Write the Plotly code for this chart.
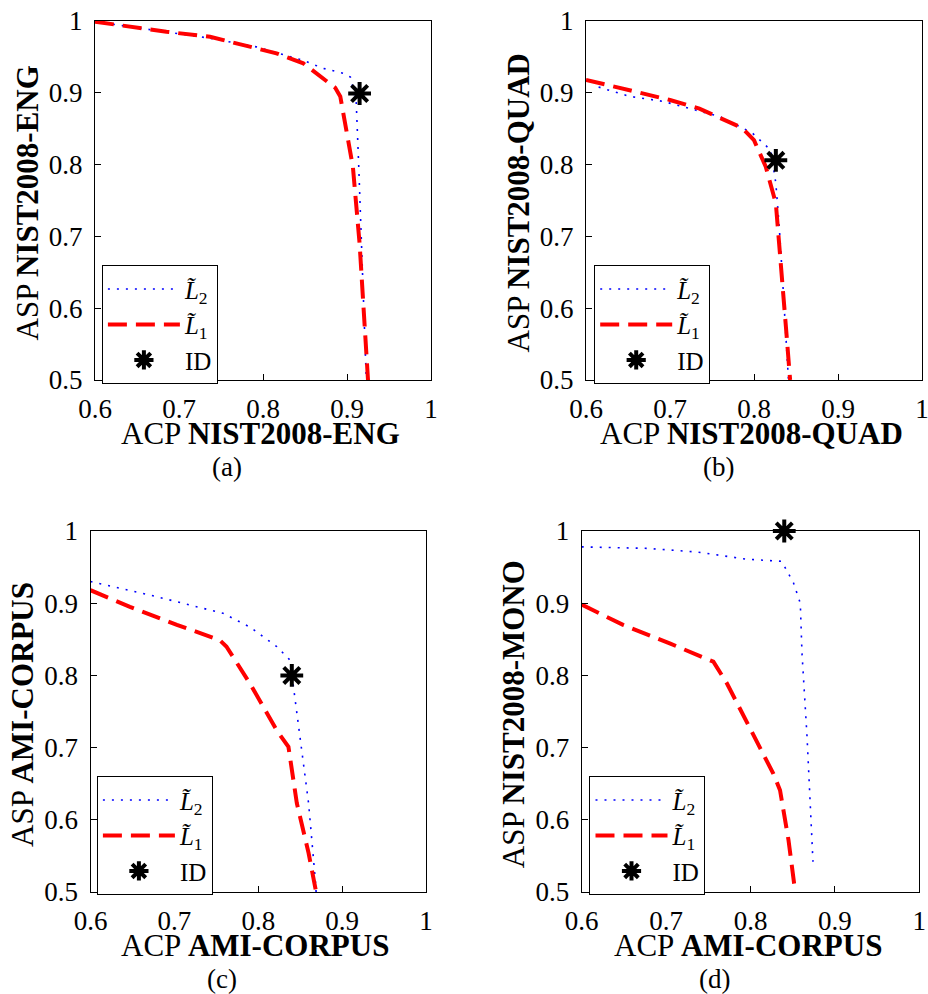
import plotly.graph_objects as go

# ---------------- data ----------------
# Panel (a): NIST2008-ENG
a_l2_x = [0.600, 0.685, 0.737, 0.792, 0.848, 0.872, 0.896, 0.904, 0.911, 0.914, 0.919, 0.923]
a_l2_y = [0.999, 0.985, 0.976, 0.964, 0.945, 0.934, 0.927, 0.922, 0.886, 0.797, 0.644, 0.500]
a_l1_x = [0.600, 0.685, 0.737, 0.816, 0.848, 0.886, 0.892, 0.907, 0.915, 0.925]
a_l1_y = [0.999, 0.985, 0.978, 0.955, 0.941, 0.907, 0.895, 0.797, 0.690, 0.500]
a_id = (0.915, 0.899)

# Panel (b): NIST2008-QUAD
b_l2_x = [0.615, 0.652, 0.692, 0.759, 0.798, 0.820, 0.826, 0.830, 0.835, 0.841]
b_l2_y = [0.908, 0.895, 0.888, 0.867, 0.844, 0.820, 0.774, 0.714, 0.621, 0.500]
b_l1_x = [0.600, 0.644, 0.700, 0.735, 0.786, 0.800, 0.814, 0.826, 0.832, 0.838, 0.843]
b_l1_y = [0.918, 0.906, 0.890, 0.878, 0.851, 0.834, 0.797, 0.746, 0.667, 0.574, 0.500]
b_id = (0.826, 0.806)

# Panel (c): AMI-CORPUS
c_l2_x = [0.600, 0.679, 0.758, 0.790, 0.822, 0.838, 0.842, 0.850, 0.860, 0.868, 0.869]
c_l2_y = [0.930, 0.909, 0.886, 0.867, 0.840, 0.821, 0.784, 0.715, 0.623, 0.517, 0.500]
c_l1_x = [0.600, 0.647, 0.703, 0.754, 0.762, 0.790, 0.822, 0.836, 0.846, 0.860, 0.869]
c_l1_y = [0.918, 0.895, 0.870, 0.849, 0.840, 0.789, 0.724, 0.701, 0.623, 0.554, 0.500]
c_id = (0.840, 0.800)

# Panel (d): AMI-CORPUS vs NIST2008-MONO
d_l2_x = [0.600, 0.677, 0.736, 0.795, 0.837, 0.851, 0.859, 0.861, 0.867, 0.872, 0.874]
d_l2_y = [0.978, 0.976, 0.971, 0.961, 0.958, 0.928, 0.900, 0.831, 0.715, 0.600, 0.542]
d_l1_x = [0.600, 0.649, 0.705, 0.756, 0.772, 0.803, 0.827, 0.835, 0.845, 0.853]
d_l1_y = [0.898, 0.870, 0.844, 0.819, 0.789, 0.720, 0.664, 0.641, 0.572, 0.500]
d_id = (0.840, 1.000)

x_ticks = [0.6, 0.7, 0.8, 0.9, 1.0]
x_tick_labels = ["0.6", "0.7", "0.8", "0.9", "1"]
y_ticks = [0.5, 0.6, 0.7, 0.8, 0.9, 1.0]
y_tick_labels = ["0.5", "0.6", "0.7", "0.8", "0.9", "1"]

x_titles = ["NIST2008-ENG", "NIST2008-QUAD", "AMI-CORPUS", "AMI-CORPUS"]
y_titles = ["NIST2008-ENG", "NIST2008-QUAD", "AMI-CORPUS", "NIST2008-MONO"]
captions = ["(a)", "(b)", "(c)", "(d)"]
series_names = ["<i>L̃</i><sub>2</sub>", "<i>L̃</i><sub>1</sub>", "ID"]

# ---------------- layout geometry (pixels) ----------------
W, H = 928, 994
panels = [  # left, right, top, bottom in px
    (95, 431, 21, 380),
    (586, 922, 21, 380),
    (90.5, 426, 531, 892),
    (581.7, 919.3, 531, 892),
]
legend_pos = [(101.7, 265), (594, 265), (96.7, 776), (589.3, 776)]

FONT = "Liberation Serif"
BLUE = "#0000ff"
RED = "#ff0000"

data = [
    (a_l2_x, a_l2_y, a_l1_x, a_l1_y, a_id),
    (b_l2_x, b_l2_y, b_l1_x, b_l1_y, b_id),
    (c_l2_x, c_l2_y, c_l1_x, c_l1_y, c_id),
    (d_l2_x, d_l2_y, d_l1_x, d_l1_y, d_id),
]

fig = go.Figure()
layout = dict(
    width=W, height=H,
    margin=dict(l=0, r=0, t=0, b=0, autoexpand=False),
    paper_bgcolor="white", plot_bgcolor="white",
    font=dict(family=FONT, size=27, color="black"),
    annotations=[],
)

for i, (l2x, l2y, l1x, l1y, idp) in enumerate(data):
    n = i + 1
    xs = "" if n == 1 else str(n)
    leg = "legend" if n == 1 else f"legend{n}"
    xa = f"x{xs}"
    ya = f"y{xs}"
    fig.add_trace(go.Scatter(x=l2x, y=l2y, mode="lines", name=series_names[0],
                             line=dict(color=BLUE, width=1.6, dash="2px,7px"),
                             xaxis=xa, yaxis=ya, legend=leg))
    fig.add_trace(go.Scatter(x=l1x, y=l1y, mode="lines", name=series_names[1],
                             line=dict(color=RED, width=4, dash="19px,9px"),
                             xaxis=xa, yaxis=ya, legend=leg))
    fig.add_trace(go.Scatter(x=[idp[0]], y=[idp[1]], mode="markers", name=series_names[2],
                             marker=dict(symbol="asterisk-open", size=19, color="black",
                                         line=dict(color="black", width=4)),
                             xaxis=xa, yaxis=ya, legend=leg, cliponaxis=False))

    L, R, T, B = panels[i]
    axcommon = dict(showline=True, mirror=True, linecolor="black", linewidth=1.2,
                    ticks="inside", ticklen=6, tickcolor="black", showgrid=False,
                    zeroline=False, automargin=False, ticklabeloverflow="allow",
                    tickfont=dict(family=FONT, size=27, color="black"))
    layout[f"xaxis{xs}"] = dict(domain=[L / W, R / W], range=[0.6, 1.0], anchor=ya,
                                tickvals=x_ticks, ticktext=x_tick_labels,
                                ticklabelstandoff=4, **axcommon)
    layout[f"yaxis{xs}"] = dict(domain=[1 - B / H, 1 - T / H], range=[0.5, 1.0], anchor=xa,
                                tickvals=y_ticks, ticktext=y_tick_labels,
                                ticklabelstandoff=6, **axcommon)
    lx, ly = legend_pos[i]
    layout[leg] = dict(x=lx / W, y=1 - ly / H, xanchor="left", yanchor="top",
                       xref="paper", yref="paper",
                       bgcolor="white", bordercolor="black", borderwidth=1.2,
                       font=dict(family=FONT, size=25, color="black"),
                       tracegroupgap=0, itemwidth=72)

    cx = (L + R) / 2
    # x-axis title
    layout["annotations"].append(dict(
        x=(cx - 3) / W, y=1 - (B + 53) / H, xref="paper", yref="paper",
        text=f"ACP <b>{x_titles[i]}</b>", showarrow=False,
        font=dict(family=FONT, size=31, color="black"), xanchor="center", yanchor="middle"))
    # y-axis title
    layout["annotations"].append(dict(
        x=(L - 68) / W, y=1 - ((T + B) / 2 + 3) / H, xref="paper", yref="paper",
        text=f"ASP <b>{y_titles[i]}</b>", showarrow=False, textangle=-90,
        font=dict(family=FONT, size=31, color="black"), xanchor="center", yanchor="middle"))
    # caption
    layout["annotations"].append(dict(
        x=(cx - 36) / W, y=1 - (B + 87) / H, xref="paper", yref="paper",
        text=captions[i], showarrow=False,
        font=dict(family=FONT, size=27, color="black"), xanchor="center", yanchor="middle"))

fig.update_layout(**layout)
fig.write_html("out.html", config={"displayModeBar": False},
               post_script="document.body.style.margin='0';document.body.style.overflow='hidden';")
